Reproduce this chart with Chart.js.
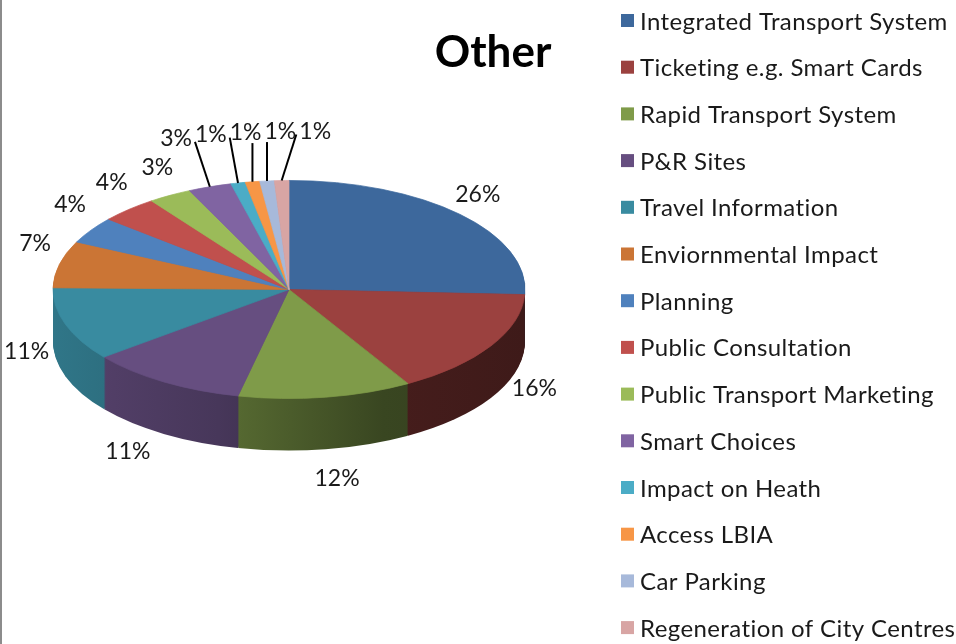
<!DOCTYPE html>
<html>
<head>
<meta charset="utf-8">
<title>Other</title>
<script src="https://cdn.jsdelivr.net/npm/chart.js@4.4.1/dist/chart.umd.min.js"></script>
<style>
    html, body { margin: 0; padding: 0; background: #ffffff; }
    #wrap { position: relative; width: 956px; height: 644px; overflow: hidden; }
    #edge { position: absolute; left: 0; top: 0; width: 2px; height: 644px; background: #8c8c8c; }
    canvas { display: block; }
</style>
</head>
<body>
<div id="wrap">
    <canvas id="otherChart" width="956" height="644"></canvas>
    <div id="edge"></div>
</div>
<script>
(function() {
    'use strict';

    // Chart data
    const TITLE = 'Other';
    const CATEGORIES = [
        'Integrated Transport System',
        'Ticketing e.g. Smart Cards',
        'Rapid Transport System',
        'P&R Sites',
        'Travel Information',
        'Enviornmental Impact',
        'Planning',
        'Public Consultation',
        'Public Transport Marketing',
        'Smart Choices',
        'Impact on Heath',
        'Access LBIA',
        'Car Parking',
        'Regeneration of City Centres'
    ];
    const SHARES = [26, 16, 12, 11, 11, 7, 4, 4, 3, 3, 1, 1, 1, 1];
    const COLORS = [
        '#3d689c', '#9b413f', '#7f9b49', '#664e80', '#398ba0', '#cb7535', '#4f81bd',
        '#c0504d', '#9bbb59', '#8064a2', '#4bacc6', '#f79646', '#a7b9da', '#d8a5a4'
    ];

    // Look of the 3D pie
    const TILT = 0.462;      // vertical squash of the top face
    const DEPTH = 52;        // thickness of the side wall, px
    const FONT = 'Lato, "Open Sans", sans-serif';
    const TEXT_COLOR = '#1a1a1a';

    const total = SHARES.reduce((a, b) => a + b, 0);

    function pctText(i) {
        return Math.round(SHARES[i] / total * 100) + '%';
    }

    function shade(hex, f) {
        const n = parseInt(hex.slice(1), 16);
        const r = Math.round(((n >> 16) & 255) * f);
        const g = Math.round(((n >> 8) & 255) * f);
        const b = Math.round((n & 255) * f);
        return `rgb(${r}, ${g}, ${b})`;
    }

    function squash(ctx, cx, cy) {
        ctx.translate(cx, cy);
        ctx.scale(1, TILT);
        ctx.translate(-cx, -cy);
    }

    function sideFill(ctx, hex, x0, x1) {
        const g = ctx.createLinearGradient(x0, 0, x1, 0);
        g.addColorStop(0, shade(hex, 0.85));
        g.addColorStop(0.35, shade(hex, 0.7));
        g.addColorStop(0.7, shade(hex, 0.45));
        g.addColorStop(1, shade(hex, 0.4));
        return g;
    }

    /**
     * Tilted pie: side wall under the slices, squashed top face,
     * then title, legend and the percentage labels.
     */
    const pie3d = {
        id: 'pie3d',
        beforeDatasetsDraw(chart) {
            const ctx = chart.ctx;
            const arcs = chart.getDatasetMeta(0).data;
            const cx = arcs[0].x, cy = arcs[0].y, r = arcs[0].outerRadius;
            const fills = arcs.map((arc, i) => sideFill(ctx, COLORS[i], cx - r, cx + r));

            for (let d = DEPTH; d >= 1; d--) {
                ctx.save();
                ctx.translate(0, d);
                squash(ctx, cx, cy);
                arcs.forEach((arc, i) => {
                    ctx.beginPath();
                    ctx.moveTo(cx, cy);
                    ctx.arc(cx, cy, r, arc.startAngle, arc.endAngle);
                    ctx.closePath();
                    ctx.fillStyle = fills[i];
                    ctx.fill();
                });
                ctx.restore();
            }

            ctx.save();
            squash(ctx, cx, cy);
        },
        afterDatasetsDraw(chart) {
            chart.ctx.restore();
        },
        afterDraw(chart) {
            const ctx = chart.ctx;
            const arcs = chart.getDatasetMeta(0).data;
            const cx = arcs[0].x, cy = arcs[0].y, r = arcs[0].outerRadius;
            const ry = r * TILT;

            ctx.save();

            // Title
            ctx.fillStyle = '#000000';
            ctx.font = 'bold 44px ' + FONT;
            ctx.textAlign = 'center';
            ctx.textBaseline = 'alphabetic';
            ctx.fillText(TITLE, 493, 67);

            // Legend
            ctx.font = '24px ' + FONT;
            ctx.letterSpacing = '0.4px';
            ctx.textAlign = 'left';
            CATEGORIES.forEach((name, i) => {
                const y = 21 + i * 46.7;
                ctx.fillStyle = COLORS[i];
                ctx.fillRect(621, y - 7, 13, 13);
                ctx.fillStyle = TEXT_COLOR;
                ctx.fillText(name, 640, y + 8.5);
            });

            // Percentage labels, placed outside the rim
            ctx.font = '23px ' + FONT;
            ctx.letterSpacing = '0px';
            const labels = arcs.map((arc, i) => {
                const mid = (arc.startAngle + arc.endAngle) / 2;
                const c = Math.cos(mid), s = Math.sin(mid);
                const text = pctText(i);
                const ox = 25 + 50 * Math.max(0, s);
                // back-left labels sit a bit higher (perspective of the original)
                const lift = s < 0 && c < 0 ? 16 * Math.pow(-c, 3) : 0;
                return {
                    text: text,
                    w: ctx.measureText(text).width,
                    x: cx + c * (r + ox),
                    y: cy + s * (ry + 30) + DEPTH * Math.max(0, s) - lift,
                    rimX: cx + c * r,
                    rimY: cy + s * ry,
                    moved: false
                };
            });

            // Spread labels that collide, in a row, with leader lines
            const groups = [];
            let cur = [labels[0]];
            for (let i = 1; i < labels.length; i++) {
                const a = labels[i - 1], b = labels[i];
                if (Math.abs(a.x - b.x) < (a.w + b.w) / 2 + 4 && Math.abs(a.y - b.y) < 20) {
                    cur.push(b);
                } else {
                    groups.push(cur);
                    cur = [b];
                }
            }
            groups.push(cur);

            groups.filter(g => g.length > 1).forEach(g => {
                const gap = 3;
                const width = g.reduce((sum, l) => sum + l.w, 0) + gap * (g.length - 1);
                const mean = g.reduce((sum, l) => sum + l.x, 0) / g.length;
                let left = mean - width / 2;
                g.slice().sort((a, b) => a.x - b.x).forEach(l => {
                    l.x = left + l.w / 2;
                    l.y -= 20;
                    l.moved = true;
                    left += l.w + gap;
                });
            });

            ctx.strokeStyle = '#000000';
            ctx.lineWidth = 2;
            labels.filter(l => l.moved).forEach(l => {
                const lft = l.x - l.w / 2, rgt = l.x + l.w / 2;
                let sx, sy;
                if (l.rimX > rgt + 2) {
                    sx = rgt + 3; sy = l.y + 4;
                } else if (l.rimX < lft - 2) {
                    sx = lft - 3; sy = l.y + 4;
                } else {
                    sx = l.rimX; sy = l.y + 11;
                }
                ctx.beginPath();
                ctx.moveTo(sx, sy);
                ctx.lineTo(l.rimX, l.rimY);
                ctx.stroke();
            });

            ctx.fillStyle = TEXT_COLOR;
            ctx.textAlign = 'center';
            labels.forEach(l => {
                ctx.fillText(l.text, l.x, l.y + 8);
            });

            ctx.restore();
        }
    };

    const ctx = document.getElementById('otherChart').getContext('2d');

    new Chart(ctx, {
        type: 'pie',
        data: {
            labels: CATEGORIES,
            datasets: [{
                data: SHARES,
                backgroundColor: COLORS,
                borderColor: COLORS,
                borderWidth: 1
            }]
        },
        options: {
            responsive: false,
            animation: false,
            events: [],
            layout: {
                padding: { left: 52, right: 430, top: 53, bottom: 118 }
            },
            plugins: {
                legend: { display: false },
                title: { display: false },
                tooltip: { enabled: false }
            }
        },
        plugins: [pie3d]
    });
})();
</script>
</body>
</html>
